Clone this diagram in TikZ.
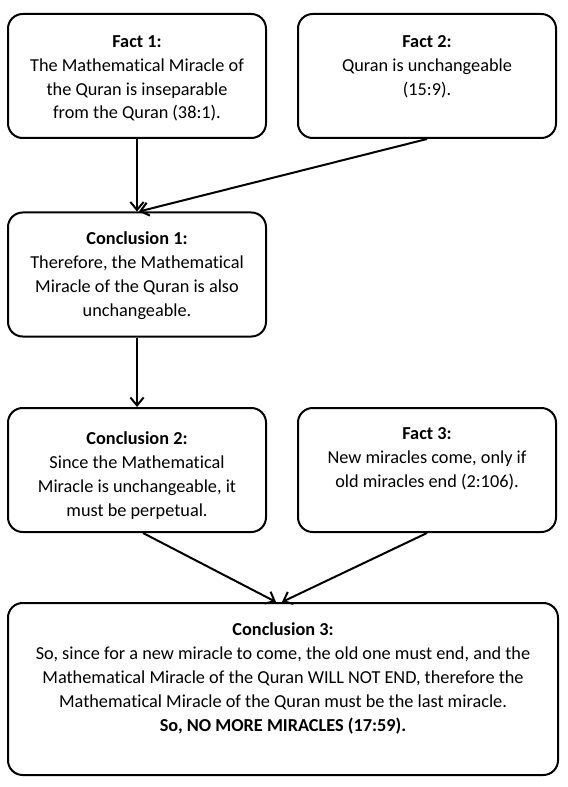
\documentclass[tikz,border=0pt]{standalone}
\usepackage{fontspec}
\setmainfont{Carlito}[Ligatures=NoCommon]
\usetikzlibrary{arrows.meta,calc}
\tikzset{
  box/.style={draw, line width=1.5pt, rounded corners=11pt, rectangle, inner sep=0pt, minimum width=193.5pt, minimum height=93pt},
  bigbox/.style={box, minimum width=412.5pt, minimum height=129pt},
  txt/.style={anchor=north, align=center, inner sep=0pt, font=\fontsize{13.7pt}{17.8pt}\selectfont},
  conn/.style={line width=1.5pt, -{Straight Barb[length=6pt,width=10pt]}}
}
\begin{document}
\begin{tikzpicture}[x=0.75pt,y=-0.75pt]
\useasboundingbox (0,0) rectangle (567,787);
\node[box] (f1) at (137,76) {};
\node[box] (f2) at (427,76) {};
\node[box] (c1) at (137,274.5) {};
\node[box] (c2) at (137,470) {};
\node[box] (f3) at (427,470) {};
\node[bigbox] (c3) at (283,689) {};

\node[txt] (t1) at (137,35.5) {\textbf{Fact 1:}\\The Mathematical Miracle of\\the Quran is inseparable\\from the Quran (38:1).};
\node[txt] (t2) at (427,35.5) {\textbf{Fact 2:}\\Quran is unchangeable\\(15:9).};
\node[txt, font=\fontsize{13.7pt}{18.1pt}\selectfont] (tc1) at (137,231) {\textbf{Conclusion 1:}\\Therefore, the Mathematical\\Miracle of the Quran is also\\unchangeable.};
\node[txt, font=\fontsize{13.7pt}{18.1pt}\selectfont] (tc2) at (137,431) {\textbf{Conclusion 2:}\\Since the Mathematical\\Miracle is unchangeable, it\\must be perpetual.};
\node[txt, font=\fontsize{13.7pt}{18pt}\selectfont] (t3) at (427,427.5) {\textbf{Fact 3:}\\New miracles come, only if\\old miracles end (2:106).};
\node[txt, font=\fontsize{13.7pt}{18pt}\selectfont] (tc3) at (283,622.5) {\textbf{Conclusion 3:}\\So, since for a new miracle to come, the old one must end, and the\\Mathematical Miracle of the Quran WILL NOT END, therefore the\\Mathematical Miracle of the Quran must be the last miracle.\\\textbf{So, NO MORE MIRACLES (17:59).}};

\draw[conn] (f1.south) -- (c1.north);
\draw[conn] (f2.south) -- ($(c1.north)+(2,0)$);
\draw[conn] (c1.south) -- (c2.north);
\draw[conn] ($(c2.south)+(6,0)$) -- ($(c3.north)+(-7,0)$);
\draw[conn] (f3.south) -- ($(c3.north)+(-1,0)$);
\end{tikzpicture}
\end{document}
